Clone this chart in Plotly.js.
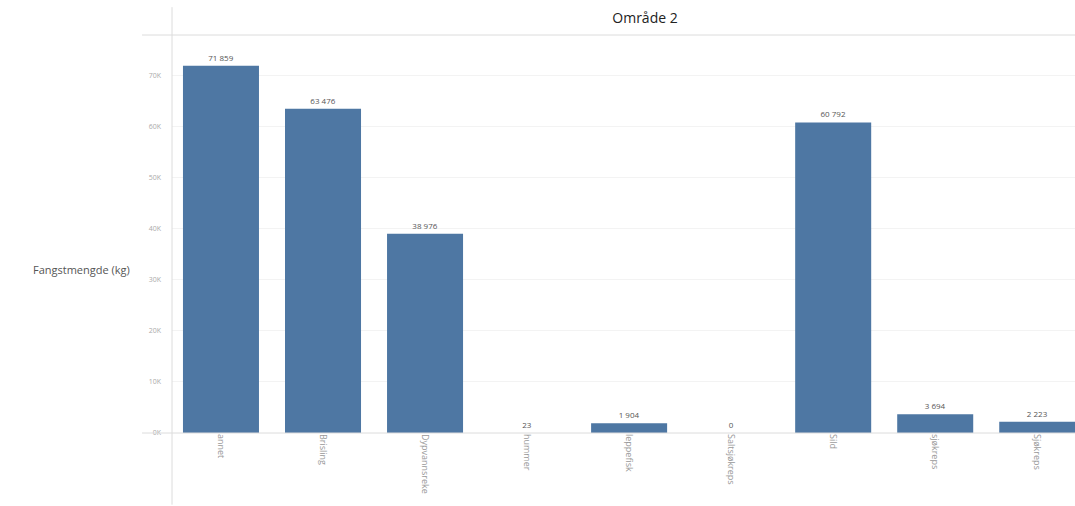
<!DOCTYPE html>
<html>
<head>
<meta charset="utf-8">
<script src="https://cdn.plot.ly/plotly-3.0.1.min.js"></script>
<style>html,body{margin:0;padding:0;background:#fff;}#chart{width:1075px;height:506px;}</style>
</head>
<body>
<div id="chart"></div>
<script>
const categories = ["annet", "Brisling", "Dypvannsreke", "hummer", "leppefisk", "Saltsjøkreps", "Sild", "sjøkreps", "Sjøkreps"];
const catchKg = [71859, 63476, 38976, 23, 1904, 0, 60792, 3694, 2223];
const yTickVals = [0, 10000, 20000, 30000, 40000, 50000, 60000, 70000];
const yTickText = ["0K", "10K", "20K", "30K", "40K", "50K", "60K", "70K"];
const titleText = "Område 2";
const yTitleText = "Fangstmengde (kg)";

const trace = {
  type: "bar",
  x: categories,
  y: catchKg,
  marker: {color: "#4e77a3"},
  width: 0.745,
  texttemplate: "%{y:,}",
  textposition: "outside",
  cliponaxis: false,
  textfont: {family: "Open Sans, sans-serif", size: 8, color: "#555"},
  hoverinfo: "x+y"
};

const lineColor = "#dcdcdc";
const layout = {
  width: 1075, height: 506,
  margin: {l: 172, r: 0, t: 35, b: 73, pad: 0},
  paper_bgcolor: "#fff", plot_bgcolor: "#fff",
  separators: ", ",
  showlegend: false,
  bargap: 0.255,
  title: {text: titleText, x: 0.6, xref: "container", xanchor: "center", y: 0.965, yref: "container", yanchor: "middle",
          font: {family: "Open Sans, sans-serif", size: 14, color: "#222"}},
  xaxis: {
    type: "category",
    range: [-0.48, 8.37],
    tickangle: 90,
    tickfont: {family: "Open Sans, sans-serif", size: 9, color: "#999"},
    showgrid: false, showline: false, zeroline: false, ticks: "",
    automargin: false, fixedrange: true
  },
  yaxis: {
    range: [0, 77900],
    tickvals: yTickVals,
    ticktext: yTickText,
    tickfont: {family: "Open Sans, sans-serif", size: 7, color: "#aaa"},
    ticklabelstandoff: 10,
    showgrid: true, gridcolor: "#f3f3f3", gridwidth: 1,
    zeroline: false, showline: false, ticks: "",
    automargin: false, fixedrange: true
  },
  shapes: [
    {type: "line", xref: "paper", yref: "paper", x0: -0.0332, x1: 1, y0: 0, y1: 0, line: {color: lineColor, width: 1}},
    {type: "line", xref: "paper", yref: "paper", x0: -0.0332, x1: 1, y0: 1, y1: 1, line: {color: lineColor, width: 1}},
    {type: "line", xref: "paper", yref: "paper", x0: 0, x1: 0, y0: -0.18, y1: 1.07, line: {color: lineColor, width: 1}}
  ],
  annotations: [
    {text: yTitleText, xref: "paper", yref: "paper", x: -0.0997, y: 0.41, xanchor: "center", yanchor: "middle",
     showarrow: false, font: {family: "Open Sans, sans-serif", size: 11, color: "#555"}}
  ]
};

Plotly.newPlot("chart", [trace], layout, {displayModeBar: false, staticPlot: true});
</script>
</body>
</html>
